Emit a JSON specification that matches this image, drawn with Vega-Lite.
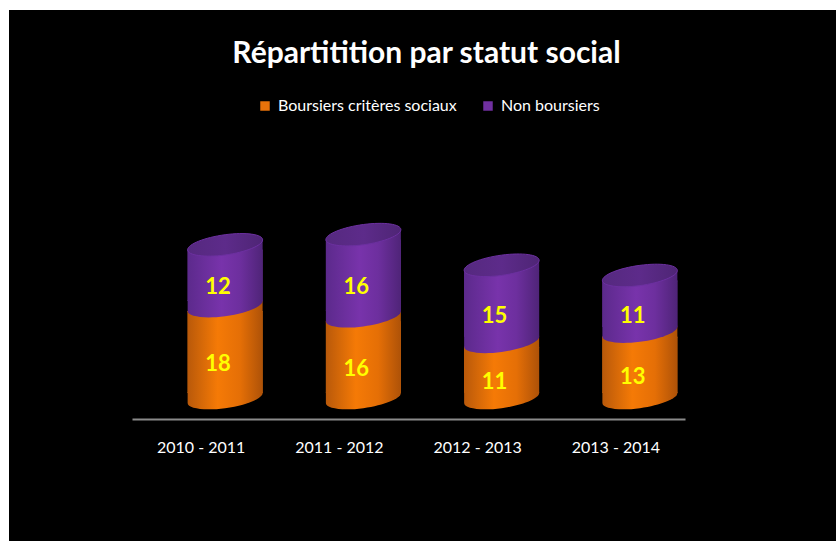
{
"$schema":"https://vega.github.io/schema/vega-lite/v6.json",
"width":827,"height":531,
"autosize":"none",
"padding":{"left":9,"top":10,"right":0,"bottom":0},
"background":"#ffffff",
"view":{"fill":"#000000","stroke":null},
"title":{"text":"Répartitition par statut social","color":"#ffffff","font":"Lato","fontWeight":"bold","fontSize":30,"anchor":"middle","dy":63,"dx":4},
"data":{"values":[
{"year":"2010 - 2011","series":"Boursiers critères sociaux","value":18},
{"year":"2010 - 2011","series":"Non boursiers","value":12},
{"year":"2011 - 2012","series":"Boursiers critères sociaux","value":16},
{"year":"2011 - 2012","series":"Non boursiers","value":16},
{"year":"2012 - 2013","series":"Boursiers critères sociaux","value":11},
{"year":"2012 - 2013","series":"Non boursiers","value":15},
{"year":"2013 - 2014","series":"Boursiers critères sociaux","value":13},
{"year":"2013 - 2014","series":"Non boursiers","value":11}
]},
"transform":[{"stack":"value","groupby":["year"],"sort":[{"field":"series","order":"ascending"}],"as":["y0","y1"]}],
"encoding":{"x":{"field":"year","type":"nominal","scale":{"type":"band","range":[123,676],"paddingInner":0.458,"paddingOuter":0.229},"axis":{"title":null,"labelAngle":0,"domain":true,"domainColor":"#8a8a8a","domainWidth":2,"ticks":false,"labelColor":"#ffffff","labelFont":"Lato","labelFontSize":16,"labelPadding":20,"offset":-122,"grid":false}},
"y":{"scale":{"domain":[0,76],"range":[388,0],"nice":false,"zero":false}}},
"layer":[
{"mark":{"type":"bar","xOffset":24,"x2Offset":24,"yOffset":5,"y2Offset":-5},
 "encoding":{"y":{"field":"y1","type":"quantitative","axis":null,"scale":{"domain":[0,76],"range":[388,0],"nice":false}},"y2":{"field":"y0"},
 "color":{"field":"series","type":"nominal","scale":{"domain":["Boursiers critères sociaux","Non boursiers"],"range":["#e8720a","#7030a0"]},
 "legend":{"orient":"none","legendX":248,"legendY":88,"direction":"horizontal","columns":2,"title":null,"symbolType":"square","symbolSize":90,"symbolStrokeWidth":0,"labelColor":"#ffffff","labelFont":"Lato","labelFontSize":16,"labelLimit":300,"columnPadding":23,"labelOffset":5,"symbolOpacity":1}}}},
{"transform":[{"filter":"datum.series==='Boursiers critères sociaux'"}],
 "mark":{"type":"bar","xOffset":24,"x2Offset":24,"yOffset":5,"y2Offset":-5,"fill":{"gradient":"linear","x1":0,"x2":1,"y1":0,"y2":0,"stops":[{"offset":0,"color":"#b9590a"},{"offset":0.4,"color":"#f57a06"},{"offset":0.7,"color":"#e56f06"},{"offset":1,"color":"#ae5208"}]}},
 "encoding":{"y":{"field":"y1","type":"quantitative"},"y2":{"field":"y0"}}},
{"transform":[{"filter":"datum.series==='Boursiers critères sociaux'"}],
 "mark":{"type":"point","filled":true,"opacity":1,"size":5625,"xOffset":24,"shape":"M-1,-0.16 L-1,0.133 C-1,0.282 -0.552,0.3435 0,0.27 C0.552,0.1965 1,0.016 1,-0.133 L1,-0.16 Z","fill":{"gradient":"linear","x1":0,"x2":1,"y1":0,"y2":0,"stops":[{"offset":0,"color":"#b9590a"},{"offset":0.4,"color":"#f57a06"},{"offset":0.7,"color":"#e56f06"},{"offset":1,"color":"#ae5208"}]}},
 "encoding":{"y":{"field":"y0","type":"quantitative"}}},
{"transform":[{"filter":"datum.series==='Boursiers critères sociaux'"}],
 "mark":{"type":"point","filled":true,"opacity":1,"size":5625,"xOffset":24,"shape":"M-1,0.133 L1,-0.133 L1,0.16 L-1,0.16 Z","fill":{"gradient":"linear","x1":0,"x2":1,"y1":0,"y2":0,"stops":[{"offset":0,"color":"#b9590a"},{"offset":0.4,"color":"#f57a06"},{"offset":0.7,"color":"#e56f06"},{"offset":1,"color":"#ae5208"}]}},
 "encoding":{"y":{"field":"y1","type":"quantitative"}}},
{"transform":[{"filter":"datum.series==='Non boursiers'"}],
 "mark":{"type":"bar","xOffset":24,"x2Offset":24,"yOffset":5,"y2Offset":-5,"fill":{"gradient":"linear","x1":0,"x2":1,"y1":0,"y2":0,"stops":[{"offset":0,"color":"#5c2a8c"},{"offset":0.45,"color":"#7833ab"},{"offset":0.7,"color":"#6d2f9e"},{"offset":1,"color":"#4f2478"}]}},
 "encoding":{"y":{"field":"y1","type":"quantitative"},"y2":{"field":"y0"}}},
{"transform":[{"filter":"datum.series==='Non boursiers'"}],
 "mark":{"type":"point","filled":true,"opacity":1,"size":5625,"xOffset":24,"shape":"M-1,-0.16 L-1,0.133 C-1,0.282 -0.552,0.3435 0,0.27 C0.552,0.1965 1,0.016 1,-0.133 L1,-0.16 Z","fill":{"gradient":"linear","x1":0,"x2":1,"y1":0,"y2":0,"stops":[{"offset":0,"color":"#5c2a8c"},{"offset":0.45,"color":"#7833ab"},{"offset":0.7,"color":"#6d2f9e"},{"offset":1,"color":"#4f2478"}]}},
 "encoding":{"y":{"field":"y0","type":"quantitative"}}},
{"transform":[{"filter":"datum.series==='Non boursiers'"}],
 "mark":{"type":"point","filled":true,"opacity":1,"size":5625,"xOffset":24,"shape":"M-1,0.133 L1,-0.133 L1,0.16 L-1,0.16 Z","fill":{"gradient":"linear","x1":0,"x2":1,"y1":0,"y2":0,"stops":[{"offset":0,"color":"#5c2a8c"},{"offset":0.45,"color":"#7833ab"},{"offset":0.7,"color":"#6d2f9e"},{"offset":1,"color":"#4f2478"}]}},
 "encoding":{"y":{"field":"y1","type":"quantitative"}}},
{"transform":[{"filter":"datum.series==='Non boursiers'"}],
 "mark":{"type":"point","filled":true,"opacity":1,"size":5625,"xOffset":24,"stroke":"#6c30a0","strokeWidth":1,"shape":"M-1,0.133 C-1,0.282 -0.552,0.3435 0,0.27 C0.552,0.1965 1,0.016 1,-0.133 C1,-0.282 0.552,-0.3435 0,-0.27 C-0.552,-0.1965 -1,-0.016 -1,0.133 Z","fill":{"gradient":"linear","x1":0,"x2":1,"y1":0,"y2":0,"stops":[{"offset":0,"color":"#55297f"},{"offset":0.5,"color":"#5d2b8a"},{"offset":1,"color":"#4e2575"}]}},
 "encoding":{"y":{"field":"y1","type":"quantitative"}}},
{"transform":[{"fold":["y0","y1"],"as":["edge","pos"]},{"aggregate":[{"op":"mean","field":"pos","as":"mid"}],"groupby":["year","series","value"]}],
 "mark":{"type":"text","color":"#ffff00","font":"Lato","fontWeight":"bold","fontSize":22,"xOffset":17,"yOffset":12},
 "encoding":{"y":{"field":"mid","type":"quantitative"},"text":{"field":"value","type":"quantitative"}}}
]
}
